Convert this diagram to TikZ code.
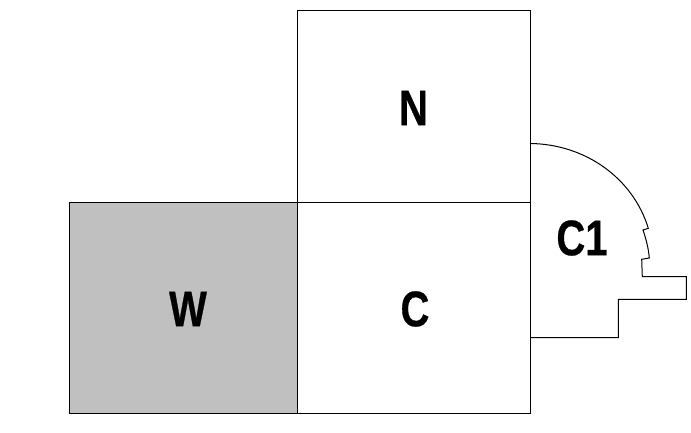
\documentclass[tikz,border=0pt]{standalone}
\usepackage{fontspec}
\setmainfont{Liberation Sans}
\tikzset{
  room/.style={draw=black,line width=1pt},
  lbl/.style={font=\fontsize{50}{50}\selectfont\bfseries\addfontfeature{FakeBold=0.6},text=black,inner sep=0pt,xscale=0.8},
}
\definecolor{wgray}{HTML}{C0C0C0}
\begin{document}
\begin{tikzpicture}[x=1pt,y=-1pt]
\useasboundingbox (0,0) rectangle (691,433);
\path[fill=white] (0,0) rectangle (691,433);
\draw[room,fill=wgray] (69,202.5) rectangle (297.5,413);
\draw[room] (297.5,11) rectangle (530,202.5);
\draw[room] (297.5,202.5) rectangle (530,413);
\draw[line width=1pt,black] (530,143.5)
  .. controls (585,144) and (633,178) .. (648.3,228.3)
  -- (643,230)
  .. controls (646,239) and (648.5,248) .. (649.3,258)
  -- (641.7,259.3) -- (642.3,276.7) -- (686.3,276.7) -- (686.3,299.3)
  -- (618.3,299.3) -- (618.3,337.7) -- (530,337.7);
\node[lbl] (n) at (413.5,108) {N};
\node[lbl] (c) at (415,309) {C};
\node[lbl] (w) at (188,309) {W};
\node[lbl] (c1) at (582,238) {C1};
\end{tikzpicture}
\end{document}
